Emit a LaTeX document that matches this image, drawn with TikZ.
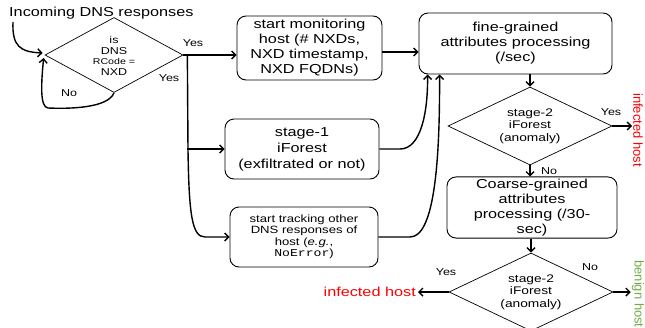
\documentclass[tikz,border=0pt]{standalone}
\usepackage{fontspec}
\setmainfont{Liberation Sans}[FakeStretch=1.25]
\setmonofont{Liberation Mono}[FakeStretch=1.25]
\newfontfamily\upsans{Liberation Sans}
\usetikzlibrary{shapes.geometric,arrows.meta,calc}
\definecolor{hostred}{RGB}{255,0,0}
\definecolor{hostgreen}{RGB}{112,173,71}
\begin{document}
\begin{tikzpicture}[x=1pt,y=-1pt,
  box/.style={draw, line width=0.9pt, rounded corners=9pt, align=center, inner sep=2pt},
  dia/.style={draw, diamond, line width=0.7pt, inner sep=0pt},
  arr/.style={line width=1.4pt, -{Straight Barb[length=4pt,width=8pt]}},
  conn/.style={line width=1.4pt},
  lab/.style={font=\fontsize{10}{12}\selectfont, inner sep=0pt},
  big/.style={font=\fontsize{13}{15}\selectfont},
]
\useasboundingbox (0,0) rectangle (645,327);

% boxes
\node[box, big, minimum width=145pt, minimum height=64pt] (mon) at (309.5,48)
  {start monitoring\\host (\# NXDs,\\NXD timestamp,\\NXD FQDNs)};
\node[box, big, minimum width=193pt, minimum height=61pt] (fine) at (515.5,43.5)
  {fine-grained\\attributes processing\\(/sec)};
\node[box, font=\fontsize{13}{16}\selectfont, minimum width=154pt, minimum height=60pt] (s1) at (302,149)
  {stage-1\\iForest\\(exfiltrated or not)};
\node[box, font=\fontsize{10.5}{11.5}\selectfont, minimum width=148pt, minimum height=60pt] (trk) at (304,237)
  {start tracking other\\DNS responses of\\host (\textit{e.g.},\\\texttt{NoError})};
\node[box, big, minimum width=170pt, minimum height=61pt] (coarse) at (532,207.5)
  {Coarse-grained\\attributes\\processing (/30-\\sec)};

% diamonds
\node[dia, minimum width=138pt, minimum height=75pt] (d1) at (114,55) {};
\node[font=\fontsize{10}{10.5}\selectfont, align=center, inner sep=0pt] (d1t) at (114,56)
  {is\\DNS\\{\fontsize{8.5}{10.5}\selectfont RCode =}\\NXD};
\node[dia, minimum width=164pt, minimum height=78pt] (d2) at (530,126) {};
\node[font=\fontsize{11}{12.5}\selectfont, align=center, inner sep=0pt] (d2t) at (530,126)
  {stage-2\\iForest\\(anomaly)};
\node[dia, minimum width=164pt, minimum height=78pt] (d3) at (531,292) {};
\node[font=\fontsize{11}{12.5}\selectfont, align=center, inner sep=0pt] (d3t) at (531,292)
  {stage-2\\iForest\\(anomaly)};

% texts
\node[anchor=base west, big, inner sep=0pt] (inc) at (9,16) {Incoming DNS responses};
\node[rotate=-90, text=hostred, font=\upsans\fontsize{13}{15}\selectfont, inner sep=1pt] (ih1) at (638,130) {infected host};
\node[rotate=-90, text=hostgreen, font=\upsans\fontsize{13}{15}\selectfont, inner sep=1pt] (bh) at (638,294) {benign host};
\node[anchor=east, text=hostred, big, inner sep=2pt] (ih2) at (418,292) {infected host};

% labels
\node[lab] (y1) at (193,43) {Yes};
\node[lab] (y2) at (169,78) {Yes};
\node[lab] (n1) at (69,93) {No};
\node[lab] (y3) at (611,112) {Yes};
\node[lab] (n2) at (549,171) {No};
\node[lab] (y4) at (446,272) {Yes};
\node[lab] (n3) at (590,267) {No};

% connectors
\coordinate (in0) at (13,22);
\draw[arr] (in0) .. controls (12,46) and (20,52) .. ($(d1.west)+(-2,-2)$);
\draw[arr] (d1.south) .. controls (108,108) and (70,109) .. (48,108)
  .. controls (40,107) and (41,85) .. ($(d1.west)+(-1,3)$);
\draw[arr] (d1.east) -- (d1.east -| mon.west);
\coordinate (br) at ($(d1.east)+(4,0)$);
\draw[arr] (br |- s1.west) -- (s1.west);
\draw[arr] (br) -- (188,150) .. controls (189,215) and (192,237) .. (205,237) -- (trk.west);
\draw[arr] ($(mon.east)+(0,4)$) -- ($(mon.east -| fine.west)+(0,4)$);
\coordinate (fa) at ($(fine.south west)+(9,0)$);
\coordinate (fb) at ($(fine.south west)+(21,0)$);
\draw[arr] (s1.east) -- (400,149) .. controls (421,149) and (428,112) .. (fa);
\draw[arr] (trk.east) -- (410,237) .. controls (433,237) and (440,170) .. (fb);
\draw[arr] (d2.north |- fine.south) -- (d2.north);
\draw[arr] (d2.south) -- (d2.south |- coarse.north);
\draw[arr] (d3.north |- coarse.south) -- (d3.north);
\draw[arr] (d2.east) -- (d2.east -| ih1.south);
\draw[arr] (d3.east) -- (d3.east -| bh.south);
\draw[arr] (d3.west) -- (ih2.east);
\end{tikzpicture}
\end{document}
